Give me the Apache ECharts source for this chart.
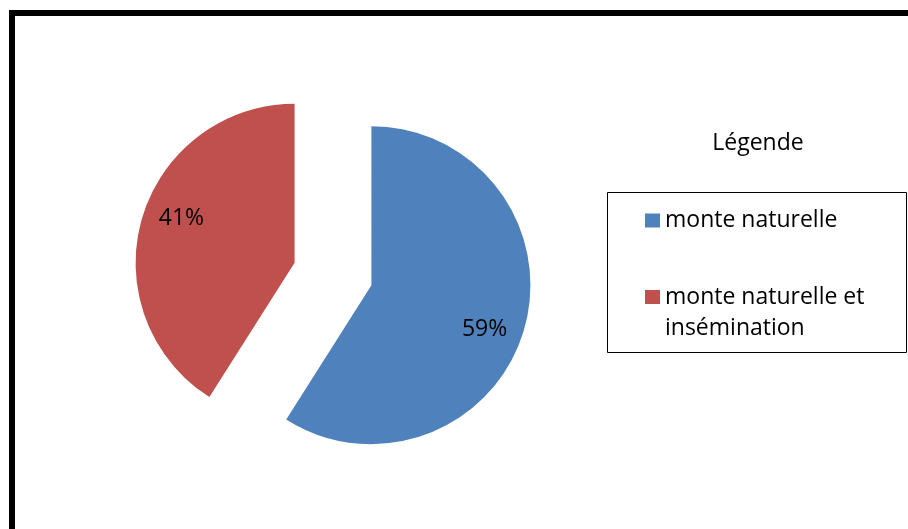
<!DOCTYPE html>
<html>
<head>
<meta charset="utf-8">
<script src="https://cdn.jsdelivr.net/npm/echarts@6/dist/echarts.min.js"></script>
<style>
html,body{margin:0;padding:0;background:#fff;}
#chart{width:908px;height:529px;}
</style>
</head>
<body>
<div id="chart"></div>
<script>
const categories = ['monte naturelle', 'monte naturelle et insémination'];
const values = [59, 41];
const colors = ['#4F81BD', '#C0504D'];
const legendTitle = 'Légende';

const FONT = 'Open Sans';
const chart = echarts.init(document.getElementById('chart'), null, {renderer: 'canvas'});

const pieData = categories.map((c, i) => ({
  name: c, value: values[i], selected: true, itemStyle: {color: colors[i]}
}));
const labelData = categories.map((c, i) => ({
  name: c, value: values[i], selected: true
}));

const option = {
  animation: false,
  backgroundColor: '#ffffff',
  graphic: [
    {type: 'rect', shape: {x: 12, y: 13, width: 1000, height: 1000},
     style: {fill: 'none', stroke: '#000', lineWidth: 6}, silent: true},
    {type: 'rect', shape: {x: 607.5, y: 192.5, width: 299, height: 160},
     style: {fill: '#fff', stroke: '#000', lineWidth: 1}, silent: true, z: 0},
    {type: 'text', x: 758, y: 143, silent: true,
     style: {text: legendTitle, font: '23px "' + FONT + '"', fill: '#000', align: 'center', verticalAlign: 'middle'}}
  ],
  legend: [
    {
      data: [categories[0]], left: 645, top: 209, padding: 0,
      itemWidth: 15, itemHeight: 14, itemGap: 7, icon: 'rect',
      textStyle: {fontFamily: FONT, fontSize: 23, color: '#000', lineHeight: 14},
      selectedMode: false
    },
    {
      data: [categories[1]], left: 645, top: 250.5, padding: 0,
      itemWidth: 15, itemHeight: 14, itemGap: 7, icon: 'rect',
      formatter: function (n) { return '\nmonte naturelle et\ninsémination'; },
      textStyle: {fontFamily: FONT, fontSize: 23, color: '#000', lineHeight: 31},
      selectedMode: false
    }
  ],
  series: [
    {
      type: 'pie', center: [333, 274], radius: 159, startAngle: 90, clockwise: true,
      selectedMode: 'multiple', selectedOffset: 40,
      label: {show: false}, labelLine: {show: false},
      emphasis: {disabled: true}, silent: true,
      data: pieData
    },
    {
      type: 'pie', center: [333, 274], radius: [78, 159], startAngle: 86, clockwise: true,
      selectedMode: 'multiple', selectedOffset: 40,
      itemStyle: {color: 'rgba(0,0,0,0)'},
      label: {show: true, position: 'inside', formatter: '{d}%', fontFamily: FONT, fontSize: 23, color: '#000'},
      labelLine: {show: false},
      emphasis: {disabled: true}, silent: true,
      data: labelData
    }
  ]
};
chart.setOption(option);
</script>
</body>
</html>
